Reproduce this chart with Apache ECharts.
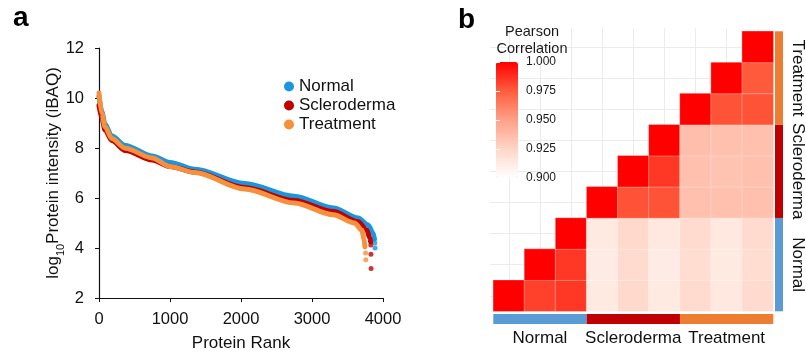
<!DOCTYPE html>
<html>
<head>
<meta charset="utf-8">
<script src="https://cdn.jsdelivr.net/npm/echarts@6/dist/echarts.min.js"></script>
<style>
  html, body { margin: 0; padding: 0; background: #fff; }
  #chart { width: 806px; height: 358px; }
</style>
</head>
<body>
<div id="chart"></div>
<script>
// panel a: ranked protein intensity
const normalRank = [0, 40, 85, 180, 370, 750, 1000, 1350, 2050, 2750, 3300, 3650, 3790, 3860, 3880];
const normalLog = [10.05, 9.45, 8.95, 8.48, 8.1, 7.68, 7.42, 7.15, 6.58, 6.07, 5.6, 5.2, 4.92, 4.6, 4.35];
const normalTail = [[3885, 4.2], [3888, 4.0]];

const sclRank = [0, 40, 85, 180, 370, 750, 1000, 1350, 2050, 2750, 3300, 3650, 3770, 3815, 3825];
const sclLog = [9.7, 9.2, 8.72, 8.3, 7.9, 7.52, 7.26, 7.04, 6.42, 5.9, 5.46, 5.05, 4.72, 4.4, 4.25];
const sclTail = [[3828, 4.12], [3830, 3.75], [3832, 3.18]];

const trtRank = [0, 40, 85, 180, 370, 750, 1000, 1350, 2050, 2750, 3300, 3600, 3700, 3735, 3745];
const trtLog = [10.2, 9.38, 8.85, 8.38, 7.99, 7.6, 7.26, 7.02, 6.36, 5.8, 5.33, 5.0, 4.72, 4.35, 4.05];
const trtTail = [[3755, 3.8], [3758, 3.53]];

// panel b: sample correlations, row r (from bottom) holds columns r..8
const samples = ['N1', 'N2', 'N3', 'S1', 'S2', 'S3', 'T1', 'T2', 'T3'];
const groups = ['Normal', 'Scleroderma', 'Treatment'];
const groupColors = ['#5B9BD5', '#C00000', '#ED7D31'];
const corrRows = [
  [1, 0.983, 0.985, 0.913, 0.923, 0.913, 0.922, 0.914, 0.922],
  [1, 0.985, 0.912, 0.922, 0.912, 0.921, 0.913, 0.921],
  [1, 0.913, 0.923, 0.914, 0.922, 0.914, 0.922],
  [1, 0.978, 0.978, 0.935, 0.935, 0.935],
  [1, 0.985, 0.935, 0.934, 0.935],
  [1, 0.936, 0.935, 0.935],
  [1, 0.978, 0.978],
  [1, 0.976],
  [1]
];

const FONT = '"Liberation Sans", Arial, sans-serif';
const zip = (xs, ys) => xs.map((x, i) => [x, ys[i]]);

const heatData = [];
corrRows.forEach((row, r) => {
  row.forEach((v, k) => heatData.push([r + k, r, v]));
});

const chart = echarts.init(document.getElementById('chart'));

const hidden = { show: false };
const lineSeries = (name, color, data) => ({
  name, type: 'line', data, xAxisIndex: 0, yAxisIndex: 0,
  showSymbol: false, smooth: 0.3, smoothMonotone: 'x',
  lineStyle: { color, width: 5, cap: 'round' },
  itemStyle: { color },
  emphasis: { disabled: true }
});
const tailSeries = (name, color, data) => ({
  name, type: 'scatter', data, xAxisIndex: 0, yAxisIndex: 0,
  symbolSize: 5, itemStyle: { color }, emphasis: { disabled: true }
});

chart.setOption({
  animation: false,
  textStyle: { fontFamily: FONT },
  grid: [
    { left: 99, top: 48, width: 284, height: 250 },          // a
    { left: 508.9, top: 28, width: 248.9, height: 283 },      // b vertical grid lines
    { left: 490, top: 46.9, width: 283, height: 248.9 },      // b horizontal grid lines
    { left: 493.3, top: 31.3, width: 280, height: 280 },      // heatmap
    { left: 496, top: 62, width: 22, height: 116 },           // colorbar axis
    { left: 493.3, top: 314, width: 280, height: 10 },        // bottom annotation
    { left: 775, top: 31.3, width: 9, height: 280 }           // right annotation
  ],
  xAxis: [
    {
      gridIndex: 0, type: 'value', min: 0, max: 4000, interval: 1000,
      name: 'Protein Rank', nameLocation: 'middle', nameGap: 37,
      nameTextStyle: { fontSize: 17, color: '#111' },
      axisLine: { lineStyle: { color: '#111', width: 1.2 } },
      axisTick: { length: 4, lineStyle: { color: '#111' } },
      axisLabel: { fontSize: 16.5, color: '#111', margin: 13, formatter: v => String(v) },
      splitLine: hidden
    },
    {
      gridIndex: 1, type: 'value', min: 0, max: 8, interval: 1,
      axisLine: hidden, axisTick: hidden, axisLabel: hidden,
      splitLine: { show: true, lineStyle: { color: '#EBEBEB', width: 1 } }
    },
    { gridIndex: 2, type: 'value', show: false },
    { gridIndex: 3, type: 'category', data: samples, show: false },
    { gridIndex: 4, type: 'value', show: false },
    {
      gridIndex: 5, type: 'category', data: groups,
      axisLine: hidden, axisTick: hidden,
      axisLabel: { interval: 0, hideOverlap: false, fontSize: 17, color: '#111', margin: 6 }
    },
    { gridIndex: 6, type: 'value', min: 0, max: 1, show: false }
  ],
  yAxis: [
    {
      gridIndex: 0, type: 'value', min: 2, max: 12, interval: 2,
      name: '{m|log}{s|10}{m|Protein intensity (iBAQ)}',
      nameLocation: 'middle', nameGap: 36, nameRotate: 90, nameMoveOverlap: false,
      nameTextStyle: {
        rich: {
          m: { fontSize: 17, color: '#111', fontFamily: FONT, lineHeight: 20 },
          s: { fontSize: 11, color: '#111', fontFamily: FONT, lineHeight: 20, verticalAlign: 'bottom', padding: [0, 0, -3, 0] }
        }
      },
      axisLine: { show: true, lineStyle: { color: '#111', width: 1.2 } },
      axisTick: { show: true, length: 4, lineStyle: { color: '#111' } },
      axisLabel: { fontSize: 16.5, color: '#111', margin: 15 },
      splitLine: hidden
    },
    { gridIndex: 1, type: 'value', show: false },
    {
      gridIndex: 2, type: 'value', min: 0, max: 8, interval: 1,
      axisLine: hidden, axisTick: hidden, axisLabel: hidden,
      splitLine: { show: true, lineStyle: { color: '#EBEBEB', width: 1 } }
    },
    { gridIndex: 3, type: 'category', data: samples, show: false },
    {
      gridIndex: 4, type: 'value', min: 0.9, max: 1.0, interval: 0.025, position: 'right', z: 10,
      axisLine: hidden,
      axisTick: { show: true, inside: true, length: 4, lineStyle: { color: '#fff', width: 1 } },
      axisLabel: { fontSize: 12, color: '#1a1a1a', margin: 8, formatter: v => v.toFixed(3) },
      splitLine: hidden
    },
    {
      gridIndex: 4, type: 'value', min: 0.9, max: 1.0, interval: 0.025, position: 'left', z: 10,
      axisLine: hidden, axisLabel: hidden, splitLine: hidden,
      axisTick: { show: true, inside: true, length: 4, lineStyle: { color: '#fff', width: 1 } }
    },
    { gridIndex: 5, type: 'value', min: 0, max: 1, show: false },
    {
      gridIndex: 6, type: 'category', data: groups, position: 'right',
      axisLine: hidden, axisTick: hidden,
      axisLabel: { interval: 0, hideOverlap: false, fontSize: 17, color: '#111', rotate: -90, margin: 6 }
    }
  ],
  legend: {
    data: ['Normal', 'Scleroderma', 'Treatment'],
    orient: 'vertical', left: 284, top: 78, padding: 0,
    icon: 'circle', itemWidth: 10, itemHeight: 10, itemGap: 2,
    textStyle: { fontSize: 17, color: '#111', lineHeight: 17 },
    selectedMode: false
  },
  visualMap: {
    type: 'continuous', min: 0.9, max: 1.0, seriesIndex: 6,
    left: 496, top: 62, itemWidth: 22, itemHeight: 116, padding: 0,
    calculable: false, text: null, showLabel: false, hoverLink: false,
    inRange: { color: ['#FFFFFF', '#FFD6C8', '#FFA088', '#FF5E3E', '#FF0000'] }
  },
  graphic: [
    { type: 'text', z: 100, left: 13, top: 4, style: { text: 'a', font: 'bold 28px ' + FONT, fill: '#000' } },
    { type: 'text', z: 100, left: 458, top: 6, style: { text: 'b', font: 'bold 28px ' + FONT, fill: '#000' } },
    {
      type: 'text', z: 100, x: 532, y: 24,
      style: { text: 'Pearson\nCorrelation', font: '14.5px ' + FONT, fill: '#1a1a1a', align: 'center', lineHeight: 16.6 }
    }
  ],
  series: [
    lineSeries('Normal', '#1B95DD', zip(normalRank, normalLog)),
    lineSeries('Scleroderma', '#C00000', zip(sclRank, sclLog)),
    lineSeries('Treatment', '#F5903D', zip(trtRank, trtLog)),
    tailSeries('Normal tail', '#1B95DD', normalTail),
    tailSeries('Scleroderma tail', '#C00000', sclTail),
    tailSeries('Treatment tail', '#F5903D', trtTail),
    {
      type: 'heatmap', xAxisIndex: 3, yAxisIndex: 3, data: heatData,
      itemStyle: { borderColor: 'rgba(255,255,255,0.5)', borderWidth: 0.6 },
      emphasis: { disabled: true }
    },
    {
      type: 'bar', xAxisIndex: 5, yAxisIndex: 6, barWidth: '100%',
      data: groups.map((g, i) => ({ value: 1, itemStyle: { color: groupColors[i] } })),
      emphasis: { disabled: true }
    },
    {
      type: 'bar', xAxisIndex: 6, yAxisIndex: 7, barWidth: '100%',
      data: groups.map((g, i) => ({ value: 1, itemStyle: { color: groupColors[i] } })),
      emphasis: { disabled: true }
    }
  ]
});
</script>
</body>
</html>
